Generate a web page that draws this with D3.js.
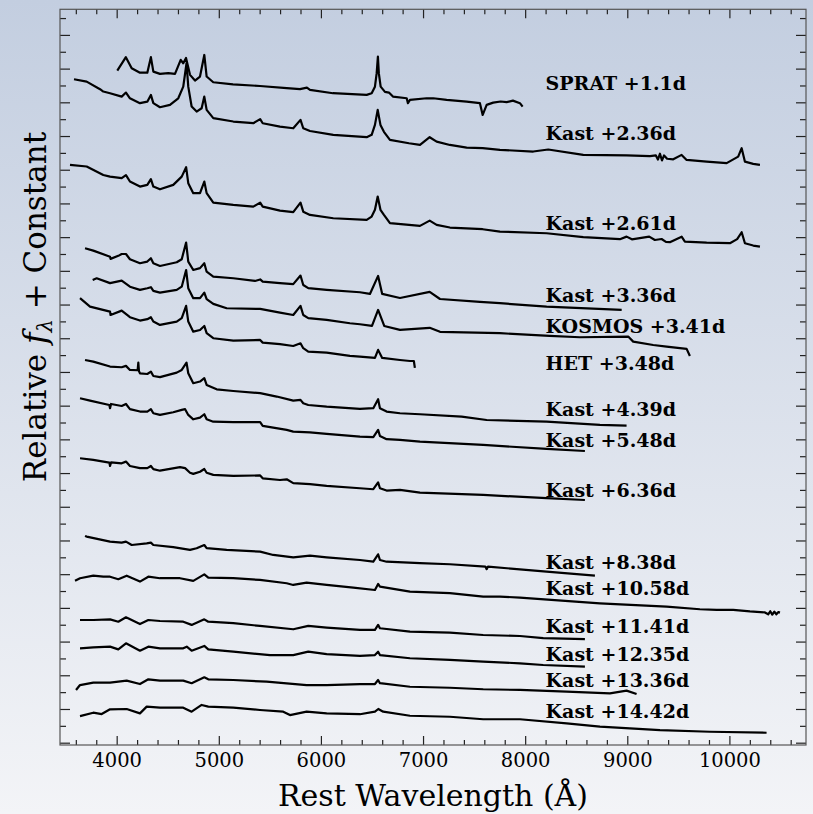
<!DOCTYPE html>
<html>
<head>
<meta charset="utf-8">
<script src="https://cdn.jsdelivr.net/npm/d3@7"></script>
<style>
  html, body { margin: 0; padding: 0; }
  body { width: 813px; height: 814px; overflow: hidden; }
</style>
</head>
<body>
<div id="chart"></div>
<script>
// spectra: [rest wavelength (A), relative flux + constant]
var sprat_1p1 = [[4006,39.88],[4090,40.68],[4147,40.02],[4228,39.76],[4300,39.76],[4335,40.68],[4359,39.82],[4424,39.69],[4505,39.73],[4571,39.69],[4627,40.52],[4652,40.32],[4679,40.63],[4718,39.63],[4767,39.29],[4816,39.53],[4858,40.81],[4881,39.53],[4946,39.19],[5139,39.07],[5403,38.97],[5665,38.84],[5795,38.78],[5863,38.87],[5893,38.74],[6118,38.54],[6448,38.44],[6497,38.54],[6529,38.93],[6546,39.73],[6558,40.71],[6567,39.73],[6585,38.93],[6627,38.62],[6666,38.58],[6705,38.34],[6840,38.24],[6852,37.95],[6872,38.14],[7035,38.24],[7100,38.24],[7231,38.14],[7427,38.04],[7557,37.95],[7584,37.25],[7623,37.85],[7687,37.98],[7760,38.05],[7819,38.01],[7880,38.1],[7949,37.95],[7975,37.74]];

var kast_2p36 = [[3582,39.37],[3706,39.23],[3837,38.78],[3869,38.64],[3935,38.54],[4049,38.34],[4091,38.58],[4130,38.24],[4228,37.95],[4300,38.04],[4335,38.44],[4359,37.95],[4424,37.71],[4522,37.85],[4603,38.24],[4652,38.93],[4684,40.32],[4701,38.93],[4734,37.75],[4783,37.45],[4832,37.65],[4858,38.34],[4881,37.55],[4946,37.06],[5142,36.86],[5338,36.76],[5405,37.0],[5430,36.76],[5599,36.56],[5729,36.46],[5800,36.96],[5827,36.46],[5893,36.3],[6121,36.07],[6448,35.93],[6497,36.07],[6529,36.66],[6556,37.55],[6583,36.66],[6617,36.25],[6676,35.77],[6862,35.57],[6970,35.47],[7065,35.93],[7133,35.67],[7263,35.47],[7427,35.31],[7584,35.28],[7753,35.18],[8079,35.08],[8226,35.2],[8569,34.88],[8993,34.85],[9222,34.81],[9280,34.85],[9300,34.6],[9320,34.95],[9340,34.55],[9360,34.85],[9390,34.65],[9450,34.62],[9532,34.88],[9581,34.58],[9777,34.48],[9973,34.39],[10086,34.78],[10120,35.28],[10152,34.48],[10233,34.35],[10299,34.29]];

var kast_2p61 = [[3543,34.29],[3706,34.19],[3869,33.69],[3935,33.59],[4049,33.5],[4091,33.68],[4130,33.3],[4228,33.0],[4300,33.1],[4335,33.44],[4359,33.0],[4424,32.84],[4554,33.1],[4637,33.59],[4680,34.15],[4701,33.2],[4750,32.61],[4816,32.61],[4858,33.3],[4881,32.61],[4946,32.05],[5142,31.91],[5338,31.81],[5405,32.05],[5430,31.81],[5599,31.57],[5729,31.48],[5800,32.05],[5827,31.51],[5893,31.32],[6121,31.12],[6448,31.02],[6497,31.22],[6529,31.62],[6556,32.41],[6583,31.62],[6617,31.32],[6676,30.83],[6970,30.67],[7065,30.98],[7133,30.73],[7263,30.57],[7584,30.47],[7753,30.33],[8210,30.23],[8569,30.0],[8928,29.88],[8993,30.03],[9045,29.87],[9215,30.03],[9270,29.83],[9336,29.89],[9378,29.72],[9417,29.7],[9532,30.03],[9564,29.73],[9777,29.67],[10005,29.64],[10076,29.88],[10120,30.29],[10152,29.64],[10233,29.5],[10299,29.44]];

var kast_3p36 = [[3690,29.34],[3771,29.2],[3935,28.84],[3940,28.71],[4016,28.89],[4049,29.0],[4091,29.0],[4130,28.69],[4228,28.45],[4300,28.55],[4335,28.75],[4359,28.45],[4424,28.29],[4588,28.51],[4637,28.69],[4680,29.68],[4701,28.55],[4750,28.05],[4816,28.16],[4858,28.45],[4881,27.95],[4946,27.66],[5142,27.56],[5354,27.4],[5405,27.49],[5430,27.36],[5599,27.27],[5729,27.21],[5800,27.72],[5827,27.16],[5876,26.97],[6056,26.87],[6382,26.73],[6480,26.63],[6560,27.7],[6600,26.63],[6774,26.39],[7065,26.75],[7166,26.33],[7557,26.16],[7753,26.08],[8210,25.88],[8945,25.68]];

var kosmos_3p41 = [[3765,27.46],[3804,27.56],[3935,27.27],[4049,27.42],[4130,27.06],[4228,26.87],[4300,26.97],[4335,27.03],[4359,26.81],[4424,26.71],[4588,26.87],[4637,27.06],[4680,28.05],[4701,26.97],[4750,26.38],[4816,26.38],[4858,26.71],[4881,26.32],[4946,26.04],[5077,25.78],[5405,25.74],[5599,25.52],[5729,25.38],[5800,25.92],[5827,25.38],[5876,25.19],[6056,25.09],[6284,24.89],[6382,24.83],[6500,24.73],[6560,25.68],[6620,24.73],[6774,24.5],[7065,24.62],[7166,24.38],[7753,24.3],[8240,24.14],[8536,24.06],[9009,24.1],[9058,23.8],[9254,23.6],[9385,23.5],[9581,23.37],[9613,22.95]];

var het_3p48 = [[3641,26.38],[3739,25.88],[3935,25.58],[3940,25.38],[4049,25.64],[4130,25.25],[4228,25.05],[4300,25.13],[4335,25.25],[4359,24.99],[4424,24.79],[4588,24.99],[4637,25.19],[4680,25.92],[4701,24.99],[4750,24.39],[4816,24.49],[4858,24.73],[4881,24.3],[4946,24.0],[5142,23.86],[5405,23.9],[5430,23.74],[5599,23.65],[5729,23.54],[5800,23.7],[5827,23.41],[5876,23.21],[6056,23.15],[6284,22.95],[6382,22.91],[6529,22.83],[6560,23.31],[6600,22.83],[6774,22.71],[6872,22.65],[6910,22.65],[6920,22.24]];

var kast_4p39 = [[3690,22.71],[3771,22.61],[3935,22.32],[4049,22.28],[4091,22.36],[4130,22.12],[4205,22.1],[4212,22.55],[4218,22.05],[4228,21.92],[4300,21.88],[4335,22.02],[4359,21.76],[4424,21.69],[4588,21.96],[4637,22.12],[4684,22.55],[4701,21.92],[4750,21.33],[4816,21.43],[4858,21.63],[4881,21.23],[4979,20.97],[5142,20.87],[5405,20.74],[5567,20.54],[5729,20.3],[5800,20.34],[5827,20.14],[5876,20.04],[6056,19.94],[6382,19.81],[6513,19.85],[6560,20.38],[6578,19.85],[6643,19.65],[6774,19.55],[6970,19.49],[7378,19.35],[7623,19.15],[8210,19.05],[8732,18.86],[8993,18.81]];

var kast_5p48 = [[3641,20.44],[3739,20.3],[3928,20.04],[3935,19.85],[3945,20.1],[4049,19.98],[4091,20.1],[4130,19.79],[4228,19.65],[4300,19.65],[4335,19.79],[4359,19.55],[4424,19.45],[4554,19.61],[4637,19.75],[4670,19.79],[4701,19.45],[4750,19.19],[4816,19.29],[4858,19.49],[4881,19.19],[4946,19.05],[5142,19.02],[5405,19.02],[5430,18.8],[5665,18.56],[5729,18.46],[5893,18.42],[6056,18.32],[6382,18.16],[6513,18.13],[6560,18.56],[6578,18.2],[6643,18.01],[6774,17.97],[6970,17.86],[7589,17.67],[8210,17.43],[8585,17.31]];

var kast_6p36 = [[3641,16.88],[3771,16.78],[3928,16.62],[3935,16.42],[3945,16.63],[4049,16.58],[4091,16.68],[4130,16.42],[4228,16.29],[4300,16.29],[4335,16.42],[4359,16.23],[4424,16.14],[4620,16.35],[4670,16.29],[4718,16.02],[4750,15.95],[4816,16.08],[4858,16.24],[4881,16.02],[4946,15.89],[5142,15.83],[5405,15.86],[5430,15.69],[5599,15.59],[5665,15.63],[5729,15.4],[5893,15.34],[6056,15.24],[6382,15.1],[6513,15.04],[6560,15.45],[6578,15.1],[6643,14.96],[6774,15.0],[6970,14.84],[7589,14.7],[8210,14.51],[8585,14.4]];

var kast_8p38 = [[3690,12.27],[3706,12.23],[3935,11.93],[4049,11.87],[4091,11.93],[4147,11.73],[4294,11.83],[4335,11.87],[4359,11.73],[4554,11.6],[4718,11.44],[4783,11.54],[4858,11.73],[4881,11.54],[5077,11.44],[5405,11.34],[5533,11.14],[5729,11.0],[5893,11.1],[6056,11.0],[6382,10.84],[6513,10.74],[6560,11.18],[6578,10.84],[6643,10.74],[6970,10.65],[7263,10.59],[7610,10.45],[7623,10.3],[7636,10.45],[8210,10.15],[8683,9.91]];

var kast_10p58 = [[3592,9.61],[3641,9.76],[3771,9.91],[3869,9.85],[3935,9.85],[4016,9.7],[4098,9.91],[4228,9.56],[4310,9.85],[4424,9.76],[4620,9.76],[4750,9.6],[4858,9.99],[4897,9.79],[5142,9.76],[5403,9.66],[5665,9.46],[5729,9.36],[5860,9.5],[6056,9.36],[6317,9.2],[6529,9.06],[6560,9.42],[6578,9.26],[6872,8.96],[7263,8.87],[7589,8.67],[7753,8.67],[7949,8.61],[8732,8.27],[9385,8.07],[9711,7.92],[9875,7.88],[10037,7.88],[10201,7.79],[10348,7.73],[10380,7.62],[10400,7.8],[10420,7.6],[10440,7.78],[10460,7.62],[10480,7.75],[10495,7.72]];

var kast_11p41 = [[3641,7.28],[3771,7.28],[3935,7.32],[4016,7.18],[4091,7.44],[4228,7.04],[4310,7.28],[4424,7.22],[4652,7.18],[4734,6.99],[4858,7.32],[4897,7.18],[5142,7.09],[5403,6.93],[5729,6.73],[5876,6.93],[6056,6.83],[6382,6.69],[6529,6.69],[6560,6.99],[6578,6.79],[6872,6.59],[7263,6.53],[7589,6.39],[7949,6.33],[8177,6.2],[8585,6.14]];

var kast_12p35 = [[3641,5.6],[3771,5.66],[3935,5.7],[4016,5.54],[4091,5.9],[4228,5.46],[4310,5.7],[4424,5.6],[4652,5.6],[4686,5.7],[4734,5.46],[4858,5.74],[4897,5.54],[5142,5.4],[5501,5.2],[5729,5.2],[5876,5.4],[6056,5.26],[6382,5.15],[6529,5.2],[6560,5.4],[6578,5.2],[6872,5.01],[7263,4.91],[7589,4.81],[7949,4.71],[8177,4.61],[8585,4.51]];

var kast_13p36 = [[3602,3.13],[3641,3.42],[3771,3.56],[3935,3.56],[4098,3.68],[4228,3.48],[4310,3.76],[4424,3.68],[4652,3.68],[4734,3.53],[4858,3.88],[4897,3.76],[5142,3.72],[5469,3.62],[5860,3.42],[6056,3.42],[6382,3.47],[6529,3.48],[6560,3.72],[6578,3.53],[6872,3.32],[7263,3.26],[7589,3.17],[7949,3.13],[8406,3.03],[8830,2.93],[8993,3.09],[9091,2.89]];

var kast_14p42 = [[3641,1.58],[3771,1.78],[3853,1.7],[3935,1.98],[4098,2.0],[4228,1.74],[4294,2.14],[4424,2.08],[4652,2.08],[4734,1.84],[4832,2.24],[4897,2.14],[5142,2.08],[5403,1.94],[5631,1.84],[5697,1.64],[5860,1.84],[6056,1.74],[6382,1.69],[6529,1.84],[6562,2.0],[6610,1.84],[6872,1.6],[7263,1.54],[7589,1.39],[7949,1.39],[8406,1.15],[8732,0.95],[9320,0.75],[9809,0.65],[10364,0.59]];

var spectra = [sprat_1p1, kast_2p36, kast_2p61, kast_3p36, kosmos_3p41, het_3p48, kast_4p39,
  kast_5p48, kast_6p36, kast_8p38, kast_10p58, kast_11p41, kast_12p35, kast_13p36, kast_14p42];
var instruments = ["SPRAT", "Kast", "Kast", "Kast", "KOSMOS", "HET", "Kast", "Kast", "Kast",
  "Kast", "Kast", "Kast", "Kast", "Kast", "Kast"];
var phases = ["+1.1d", "+2.36d", "+2.61d", "+3.36d", "+3.41d", "+3.48d", "+4.39d", "+5.48d",
  "+6.36d", "+8.38d", "+10.58d", "+11.41d", "+12.35d", "+13.36d", "+14.42d"];
// label baseline level in flux units
var labelLevels = [38.74, 35.77, 30.43, 26.15, 24.32, 22.12, 19.39, 17.55, 14.58, 10.31, 8.77,
  6.53, 4.87, 3.29, 1.45];
var labelWave = 8200;

var xMajor = [4000, 5000, 6000, 7000, 8000, 9000, 10000];

var W = 813, H = 814;
var mL = 60, mR = 806, mT = 9.3, mB = 745;

var svg = d3.select("#chart").append("svg")
    .attr("width", W)
    .attr("height", H);

// background gradient
var grad = svg.append("defs").append("linearGradient")
    .attr("id", "bg").attr("x1", 0).attr("y1", 0).attr("x2", 0).attr("y2", 1);
grad.append("stop").attr("offset", "0%").attr("stop-color", "#c3cee0");
grad.append("stop").attr("offset", "100%").attr("stop-color", "#f3f4f7");
svg.append("rect").attr("width", W).attr("height", H).attr("fill", "url(#bg)");

var x = d3.scaleLinear().domain([3445, 10750]).range([mL, mR]);
var y = d3.scaleLinear().domain([-0.137, 43.52]).range([mB, mT]);

// axes, ticks pointing inward
var minorX = d3.range(3600, 10750, 200).filter(function(d) { return d % 1000 != 0; });
var yTicks = d3.range(0, 44);

function clean(g) { g.select(".domain").remove(); }

svg.append("g")
    .attr("transform", "translate(0," + mB + ")")
    .call(d3.axisBottom(x).tickValues(xMajor).tickSize(-9).tickPadding(8).tickFormat(d3.format("d")))
    .call(clean)
    .call(function(g) {
      g.selectAll("text").attr("font-family", "DejaVu Serif").attr("font-size", 19.5).attr("fill", "#000");
    });
svg.append("g")
    .attr("transform", "translate(0," + mB + ")")
    .call(d3.axisBottom(x).tickValues(minorX).tickSize(-5).tickFormat(""))
    .call(clean);
svg.append("g")
    .attr("transform", "translate(0," + mT + ")")
    .call(d3.axisTop(x).tickValues(xMajor).tickSize(-9).tickFormat(""))
    .call(clean);
svg.append("g")
    .attr("transform", "translate(0," + mT + ")")
    .call(d3.axisTop(x).tickValues(minorX).tickSize(-5).tickFormat(""))
    .call(clean);

svg.append("g")
    .attr("transform", "translate(" + mL + ",0)")
    .call(d3.axisLeft(y).tickValues(yTicks).tickSize(-10).tickFormat(""))
    .call(clean)
    .selectAll(".tick line").attr("x2", function(d) { return d % 2 == 0 ? 10 : 6; });
svg.append("g")
    .attr("transform", "translate(" + mR + ",0)")
    .call(d3.axisRight(y).tickValues(yTicks).tickSize(-10).tickFormat(""))
    .call(clean)
    .selectAll(".tick line").attr("x2", function(d) { return d % 2 == 0 ? -10 : -6; });

svg.selectAll(".tick line").attr("stroke", "#222").attr("stroke-width", 1.2);

svg.append("rect")
    .attr("x", mL).attr("y", mT)
    .attr("width", mR - mL).attr("height", mB - mT)
    .attr("fill", "none").attr("stroke", "#555").attr("stroke-width", 1.2);

// spectra
var line = d3.line()
    .x(function(d) { return x(d[0]); })
    .y(function(d) { return y(d[1]); });

svg.append("g").selectAll("path")
  .data(spectra)
  .enter()
  .append("path")
    .attr("d", line)
    .attr("fill", "none")
    .attr("stroke", "#000")
    .attr("stroke-width", 2.2)
    .attr("stroke-linejoin", "round");

// epoch labels
svg.append("g").selectAll("text")
  .data(phases)
  .enter()
  .append("text")
    .attr("x", x(labelWave))
    .attr("y", function(d, i) { return y(labelLevels[i]); })
    .attr("font-family", "DejaVu Serif")
    .attr("font-weight", "bold")
    .attr("font-size", 19)
    .attr("fill", "#000")
    .text(function(d, i) { return instruments[i] + " " + d; });

// axis titles
svg.append("text")
    .attr("x", (mL + mR) / 2)
    .attr("y", 806)
    .attr("text-anchor", "middle")
    .attr("font-family", "DejaVu Serif")
    .attr("font-size", 30)
    .attr("fill", "#000")
    .text("Rest Wavelength (\u00C5)");

var yl = svg.append("text")
    .attr("transform", "translate(46,307) rotate(-90)")
    .attr("text-anchor", "middle")
    .attr("font-family", "DejaVu Serif")
    .attr("font-size", 31)
    .attr("fill", "#000");
yl.append("tspan").text("Relative ");
yl.append("tspan").attr("font-style", "italic").text("f");
yl.append("tspan").attr("font-size", 21).attr("font-style", "italic").attr("dy", 6).text("\u03BB");
yl.append("tspan").attr("dy", -6).text(" + Constant");
</script>
</body>
</html>
